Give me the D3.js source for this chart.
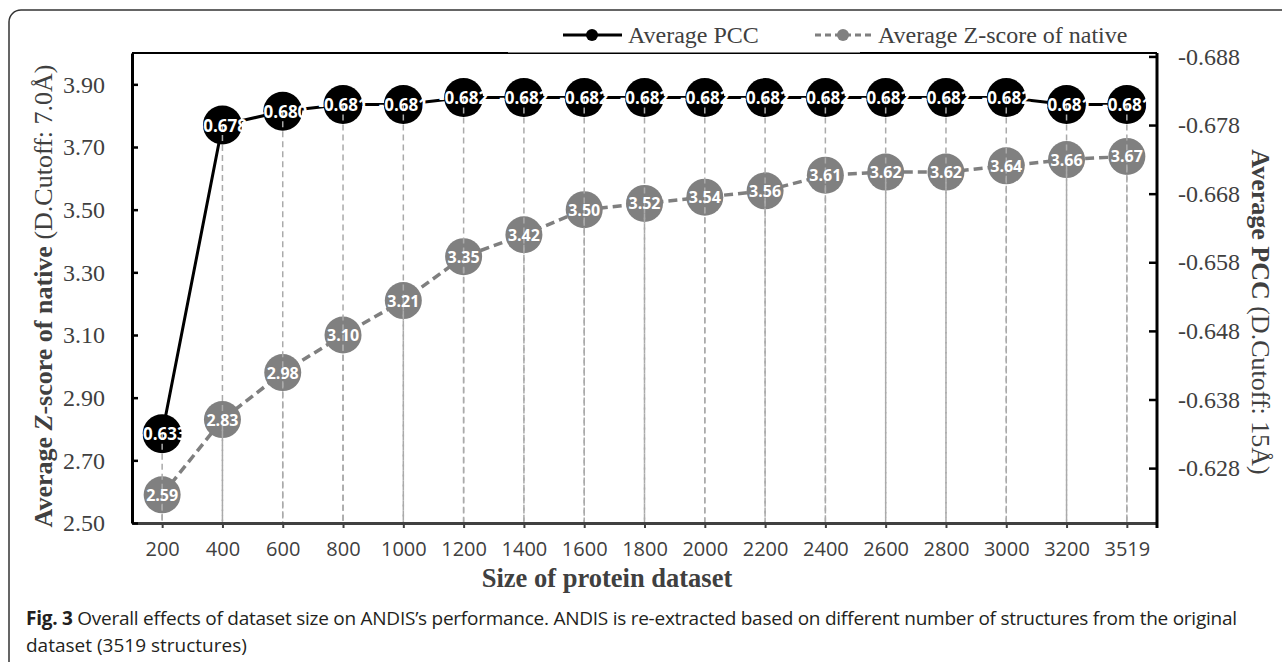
<!DOCTYPE html>
<html>
<head>
<meta charset="utf-8">
<script src="https://cdn.jsdelivr.net/npm/d3@7"></script>
<style>
  body { margin: 0; background: #fff; }
  svg { display: block; }
</style>
</head>
<body>
<div id="chart"></div>
<script>
const sizes = ["200", "400", "600", "800", "1000", "1200", "1400", "1600", "1800",
  "2000", "2200", "2400", "2600", "2800", "3000", "3200", "3519"];
const zScores = [2.59, 2.83, 2.98, 3.10, 3.21, 3.35, 3.42, 3.50, 3.52, 3.54, 3.56,
  3.61, 3.62, 3.62, 3.64, 3.66, 3.67];
const pccValues = [-0.633, -0.678, -0.680, -0.681, -0.681, -0.682, -0.682, -0.682, -0.682,
  -0.682, -0.682, -0.682, -0.682, -0.682, -0.682, -0.681, -0.681];
const leftTicks = [2.5, 2.7, 2.9, 3.1, 3.3, 3.5, 3.7, 3.9];
const rightTicks = [-0.688, -0.678, -0.668, -0.658, -0.648, -0.638, -0.628];

const width = 1282;
const height = 662;
const plot = { left: 132, right: 1157, top: 53, bottom: 523 };
const serif = "'Liberation Serif', 'Times New Roman', serif";
const sans = "'Open Sans', sans-serif";

const svg = d3.select("#chart").append("svg")
  .attr("width", width)
  .attr("height", height);

// outer panel frame (runs off the right and bottom edges)
svg.append("rect")
  .attr("x", 9).attr("y", 10)
  .attr("width", 1400).attr("height", 800)
  .attr("rx", 12)
  .attr("fill", "none")
  .attr("stroke", "#333")
  .attr("stroke-width", 1.5);

const x = d3.scalePoint().domain(sizes).range([plot.left, plot.right]).padding(0.5);
const yLeft = d3.scaleLinear().domain([2.5, 4.0]).range([plot.bottom, plot.top]);
// secondary axis drawn in reverse order, as in the original
const yRight = d3.scaleLinear().domain([-0.6885, -0.62]).range([plot.top, plot.bottom]);

const points = sizes.map((s, i) => ({ size: s, z: zScores[i], pcc: pccValues[i] }));

// top border of plot area
svg.append("line")
  .attr("x1", plot.left).attr("x2", plot.right)
  .attr("y1", plot.top).attr("y2", plot.top)
  .attr("stroke", "#000").attr("stroke-width", 2);

// series lines
svg.append("path")
  .datum(points)
  .attr("fill", "none")
  .attr("stroke", "#000")
  .attr("stroke-width", 3)
  .attr("d", d3.line().x(d => x(d.size)).y(d => yRight(d.pcc)));

svg.append("path")
  .datum(points)
  .attr("fill", "none")
  .attr("stroke", "#7f7f7f")
  .attr("stroke-width", 3.5)
  .attr("stroke-dasharray", "9,5")
  .attr("d", d3.line().x(d => x(d.size)).y(d => yLeft(d.z)));

// markers
svg.append("g").selectAll("circle")
  .data(points)
  .join("circle")
  .attr("cx", d => x(d.size))
  .attr("cy", d => yRight(d.pcc))
  .attr("r", 19.5)
  .attr("fill", "#000");

svg.append("g").selectAll("circle")
  .data(points)
  .join("circle")
  .attr("cx", d => x(d.size))
  .attr("cy", d => yLeft(d.z))
  .attr("r", 18.5)
  .attr("fill", "#808080");

// drop lines from every point down to the category axis
const dropG = svg.append("g")
  .attr("stroke", "#aaa")
  .attr("stroke-width", 1.5)
  .attr("stroke-dasharray", "6,4");

dropG.selectAll(".drop-pcc")
  .data(points)
  .join("line")
  .attr("class", "drop-pcc")
  .attr("x1", d => x(d.size)).attr("x2", d => x(d.size))
  .attr("y1", d => yRight(d.pcc)).attr("y2", plot.bottom);

dropG.selectAll(".drop-z")
  .data(points)
  .join("line")
  .attr("class", "drop-z")
  .attr("x1", d => x(d.size)).attr("x2", d => x(d.size))
  .attr("y1", d => yLeft(d.z)).attr("y2", plot.bottom);

// data labels
const labelG = svg.append("g")
  .attr("font-family", sans)
  .attr("font-weight", "bold")
  .attr("fill", "#fff")
  .attr("text-anchor", "middle")
  .attr("dominant-baseline", "central");

labelG.selectAll(".pcc-label")
  .data(points)
  .join("text")
  .attr("class", "pcc-label")
  .attr("x", d => x(d.size))
  .attr("y", d => yRight(d.pcc))
  .attr("font-size", 17)
  .text(d => d.pcc.toFixed(3));

labelG.selectAll(".z-label")
  .data(points)
  .join("text")
  .attr("class", "z-label")
  .attr("x", d => x(d.size))
  .attr("y", d => yLeft(d.z))
  .attr("font-size", 16)
  .text(d => d.z.toFixed(2));

// axes
const xAxis = svg.append("g")
  .attr("transform", `translate(0,${plot.bottom})`)
  .call(d3.axisBottom(x).tickSize(5).tickSizeOuter(0).tickPadding(14));
xAxis.select(".domain").attr("stroke", "#404040").attr("stroke-width", 3);
xAxis.selectAll(".tick line").attr("stroke", "#404040").attr("stroke-width", 2);
xAxis.selectAll("text")
  .attr("font-family", sans).attr("font-size", 20).attr("fill", "#404040");

const leftAxis = svg.append("g")
  .attr("transform", `translate(${plot.left},0)`)
  .call(d3.axisLeft(yLeft).tickValues(leftTicks).tickFormat(d => d.toFixed(2))
    .tickSize(-6).tickSizeOuter(0).tickPadding(27));
leftAxis.select(".domain").attr("stroke", "#000").attr("stroke-width", 3);
leftAxis.selectAll(".tick line").attr("stroke", "#000").attr("stroke-width", 2.5);
leftAxis.selectAll("text")
  .attr("font-family", serif).attr("font-size", 24).attr("fill", "#404040");

const rightAxis = svg.append("g")
  .attr("transform", `translate(${plot.right},0)`)
  .call(d3.axisRight(yRight).tickValues(rightTicks).tickFormat(d => d.toFixed(3))
    .tickSize(-8).tickSizeOuter(0).tickPadding(21));
rightAxis.select(".domain")
  .attr("d", `M0,${plot.top}V${plot.bottom + 5}`)
  .attr("stroke", "#000").attr("stroke-width", 3);
rightAxis.selectAll(".tick line").attr("stroke", "#000").attr("stroke-width", 2.5);
rightAxis.selectAll("text")
  .attr("font-family", serif).attr("font-size", 24).attr("fill", "#404040");

// axis titles
const leftTitle = svg.append("text")
  .attr("transform", "translate(43,296) rotate(-90)")
  .attr("text-anchor", "middle")
  .attr("dominant-baseline", "central")
  .attr("font-family", serif)
  .attr("font-size", 26)
  .attr("fill", "#404040");
leftTitle.append("tspan").attr("font-weight", "bold").text("Average ");
leftTitle.append("tspan").attr("font-weight", "bold").attr("font-style", "italic").text("Z");
leftTitle.append("tspan").attr("font-weight", "bold").text("-score of native ");
leftTitle.append("tspan").text("(D.Cutoff: 7.0Å)");

const rightTitle = svg.append("text")
  .attr("transform", "translate(1261,312) rotate(90)")
  .attr("text-anchor", "middle")
  .attr("dominant-baseline", "central")
  .attr("font-family", serif)
  .attr("font-size", 26)
  .attr("fill", "#404040");
rightTitle.append("tspan").attr("font-weight", "bold").text("Average PCC ");
rightTitle.append("tspan").text("(D.Cutoff: 15Å)");

svg.append("text")
  .attr("x", 607).attr("y", 587)
  .attr("text-anchor", "middle")
  .attr("font-family", serif)
  .attr("font-weight", "bold")
  .attr("font-size", 26.5)
  .attr("fill", "#404040")
  .text("Size of protein dataset");

// legend
svg.append("rect")
  .attr("x", 508).attr("y", 15)
  .attr("width", 352).attr("height", 37.5)
  .attr("fill", "#fff");

const legend = svg.append("g").attr("font-family", serif).attr("font-size", 24).attr("fill", "#404040");
const legY = 35;

legend.append("line")
  .attr("x1", 563).attr("x2", 622).attr("y1", legY).attr("y2", legY)
  .attr("stroke", "#000").attr("stroke-width", 3);
legend.append("circle").attr("cx", 592).attr("cy", legY).attr("r", 6).attr("fill", "#000");
legend.append("text").attr("x", 628).attr("y", legY).attr("dominant-baseline", "central")
  .text("Average PCC");

legend.append("line")
  .attr("x1", 815).attr("x2", 874).attr("y1", legY).attr("y2", legY)
  .attr("stroke", "#7f7f7f").attr("stroke-width", 3).attr("stroke-dasharray", "6,4");
legend.append("circle").attr("cx", 843).attr("cy", legY).attr("r", 6).attr("fill", "#808080");
legend.append("text").attr("x", 878).attr("y", legY).attr("dominant-baseline", "central")
  .text("Average Z-score of native");

// caption
const caption = svg.append("g").attr("font-family", sans).attr("font-size", 19).attr("fill", "#231f20");
const cap1 = caption.append("text").attr("x", 26).attr("y", 625)
  .attr("textLength", 1211).attr("lengthAdjust", "spacing");
cap1.append("tspan").attr("font-weight", "bold").text("Fig. 3");
cap1.append("tspan").text(" Overall effects of dataset size on ANDIS\u2019s performance. ANDIS is re-extracted based on different number of structures from the original");
caption.append("text").attr("x", 26).attr("y", 652)
  .text("dataset (3519 structures)");
</script>
</body>
</html>
